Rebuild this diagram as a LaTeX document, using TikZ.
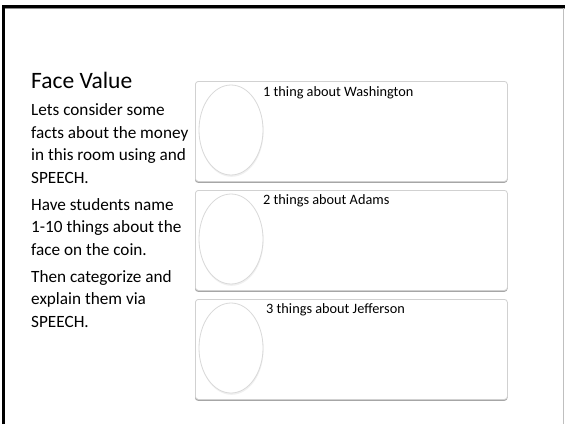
\documentclass[tikz,border=0pt]{standalone}
\usepackage{fontspec}
\setmainfont{Carlito}
\usetikzlibrary{shapes.geometric}
\begin{document}
\begin{tikzpicture}[x=1pt,y=-1pt,
  panel/.style={draw=black!18, fill=white, rounded corners=3pt, line width=0.8pt},
  panelshadow/.style={fill=black!35, rounded corners=3pt},
  coin/.style={draw=black!15, fill=white, line width=0.8pt},
  label/.style={anchor=base west, inner sep=0pt, font=\fontsize{14.3}{17}\selectfont},
  body/.style={anchor=base west, inner sep=0pt, align=left, font=\fontsize{17.2}{22.4}\selectfont}]
\useasboundingbox (0,0) rectangle (565,424);
\fill[white] (0,0) rectangle (565,424);
% slide frame
\draw[line width=3pt] (3,424) -- (3,6.5) -- (565,6.5);
\draw[black!45, line width=0.8pt] (4.5,8.6) -- (565,8.6);
\draw[black!25, line width=1pt] (563.8,8) -- (563.8,424);
% title and text (anchored at the baseline of each last line)
\node[anchor=base west, inner sep=0pt, font=\fontsize{23.5}{28}\selectfont] (title) at (31,88) {Face Value};
\node[body] (p1) at (31,183) {Lets consider some\\facts about the money\\in this room using and\\SPEECH.};
\node[body] (p2) at (31,255) {Have students name\\1-10 things about the\\face on the coin.};
\node[body] (p3) at (31,327) {Then categorize and\\explain them via\\SPEECH.};
% panels
\foreach \n/\y in {1/81, 2/190, 3/299} {
  \fill[panelshadow] (195,\y+1.8) rectangle (507.5,\y+101.8);
  \node[panel, minimum width=312pt, minimum height=100pt, anchor=north west, inner sep=0pt] (box\n) at (195,\y) {};
  \fill[black!6] (231.5,\y+50.8) ellipse [x radius=32pt, y radius=45pt];
  \node[coin, ellipse, minimum width=64pt, minimum height=90pt, inner sep=0pt] (coin\n) at (231,\y+49) {};
}
\node[label] (t1) at (263,96) {1 thing about Washington};
\node[label] (t2) at (263,204.5) {2 things about Adams};
\node[label] (t3) at (266,313.5) {3 things about Jefferson};
\end{tikzpicture}
\end{document}
